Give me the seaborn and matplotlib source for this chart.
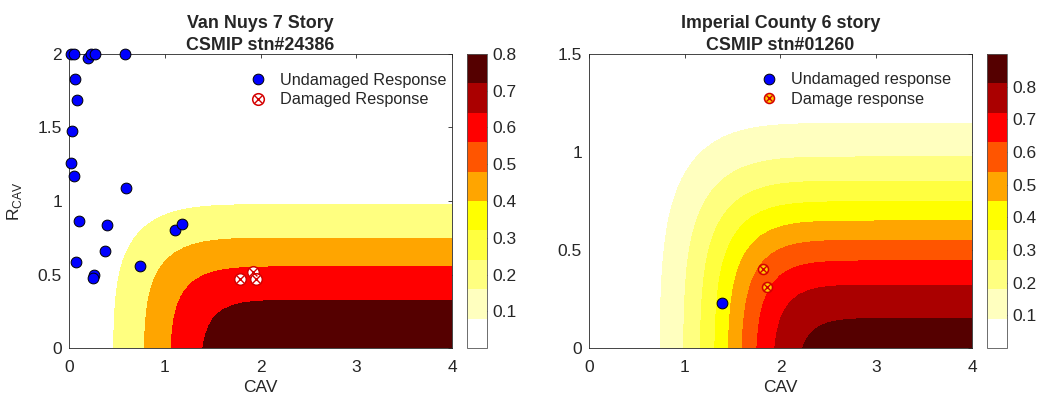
import math
import numpy as np
import matplotlib
matplotlib.use("Agg")
import matplotlib.pyplot as plt
from matplotlib.colors import ListedColormap, Normalize
from matplotlib.cm import ScalarMappable
from matplotlib.lines import Line2D
from matplotlib.legend_handler import HandlerTuple
import seaborn as sns

sns.set_style("white")
plt.rcParams["font.family"] = ["Liberation Sans", "DejaVu Sans"]
plt.rcParams["mathtext.fontset"] = "custom"
plt.rcParams["mathtext.rm"] = "Liberation Sans"

# ten colour bands of both colorbars (white -> dark red)
band_colors = ["#FFFFFF", "#FFFFBF", "#FFFF80", "#FFFF40", "#FFFF00",
               "#FFA500", "#FF5500", "#FF0000", "#AA0000", "#550000"]

# ---- Van Nuys 7 story, CSMIP stn#24386 ----
vn_title = "Van Nuys 7 Story\nCSMIP stn#24386"
vn_und_cav = [0.02, 0.05, 0.20, 0.23, 0.27, 0.58, 0.066, 0.087, 0.03, 0.025,
              0.05, 0.60, 0.104, 0.40, 0.38, 0.077, 0.258, 0.254, 0.742, 1.104, 1.177]
vn_und_r = [2.0, 2.0, 1.975, 2.0, 2.0, 2.0, 1.83, 1.685, 1.476, 1.26,
            1.17, 1.086, 0.866, 0.837, 0.658, 0.587, 0.495, 0.474, 0.556, 0.805, 0.841]
vn_dam_cav = [1.786, 1.925, 1.95]
vn_dam_r = [0.47, 0.519, 0.469]
vn_levels = [0.2, 0.4, 0.6, 0.8]
vn_cbar_max = 0.8
vn_cbar_ticks = [0.1, 0.2, 0.3, 0.4, 0.5, 0.6, 0.7, 0.8]
vn_yticks = [0, 0.5, 1, 1.5, 2]
vn_ymax = 2.0
vn_labels = ["Undamaged Response", "Damaged Response"]
# fragility surface: median / spread of CAV and R_CAV
vn_cav_fit = [0.92, 0.54]
vn_r_fit = [0.65, 0.386]

# ---- Imperial County 6 story, CSMIP stn#01260 ----
ic_title = "Imperial County 6 story\nCSMIP stn#01260"
ic_und_cav = [1.386]
ic_und_r = [0.232]
ic_dam_cav = [1.82, 1.855]
ic_dam_r = [0.405, 0.31]
ic_levels = [0.1, 0.2, 0.3, 0.4, 0.5, 0.6, 0.7, 0.8, 0.9]
ic_cbar_max = 0.9
ic_cbar_ticks = [0.1, 0.2, 0.3, 0.4, 0.5, 0.6, 0.7, 0.8]
ic_yticks = [0, 0.5, 1, 1.5]
ic_ymax = 1.5
ic_labels = ["Undamaged response", "Damage response"]
ic_cav_fit = [1.45, 0.55]
ic_r_fit = [0.648, 0.388]

copula_theta = 1.5
xticks = [0, 1, 2, 3, 4]

erf = np.vectorize(math.erf)


def ncdf(z):
    return 0.5 * (1.0 + erf(z / math.sqrt(2.0)))


def fragility(cav, r, cav_fit, r_fit):
    f = np.clip(ncdf((cav - cav_fit[0]) / cav_fit[1]), 1e-12, 1 - 1e-12)
    g = np.clip(1 - ncdf((r - r_fit[0]) / r_fit[1]), 1e-12, 1 - 1e-12)
    s = (-np.log(f)) ** copula_theta + (-np.log(g)) ** copula_theta
    return np.exp(-s ** (1.0 / copula_theta))


fig = plt.figure(figsize=(10.43, 3.99), dpi=100)
dark = "#262626"
cmap = ListedColormap(band_colors)


def panel(ax_rect, cb_rect, title, und_c, und_r, dam_c, dam_r, levels, cmax,
          cticks, yticks, ymax, labels, cav_fit, r_fit, dam_face, dam_size, leg_anchor):
    ax = fig.add_axes(ax_rect)
    cg = np.linspace(0, 4, 41)
    rg = np.linspace(0, ymax, 41)
    C, R = np.meshgrid(cg, rg)
    P = fragility(C, R, cav_fit, r_fit)
    fill = [band_colors[min(int(l / cmax * 10 + 1e-6), 9)] for l in levels]
    ax.contourf(C, R, P, levels=levels + [1.0], colors=fill, antialiased=False)

    sns.scatterplot(x=und_c, y=und_r, ax=ax, color="#0000FF", edgecolor="black",
                    linewidth=0.7, s=60, clip_on=False, zorder=4, legend=False)
    sns.scatterplot(x=dam_c, y=dam_r, ax=ax, color=dam_face, edgecolor="#D40000",
                    linewidth=1.1, s=dam_size, zorder=5, legend=False)
    sns.scatterplot(x=dam_c, y=dam_r, ax=ax, marker="x", color="#D40000",
                    linewidth=1.0, s=dam_size * 0.45, zorder=6, legend=False)

    ax.set_xlim(0, 4)
    ax.set_ylim(0, ymax)
    ax.set_xticks(xticks)
    ax.set_xticklabels([str(t) for t in xticks])
    ax.set_yticks(yticks)
    ax.set_yticklabels([f"{t:g}" for t in yticks])
    ax.tick_params(direction="in", top=True, right=True, length=3, width=0.6,
                   colors=dark, labelsize=12.5, pad=5)
    ax.tick_params(axis="x", pad=8.5)
    for sp in ax.spines.values():
        sp.set_color(dark)
        sp.set_linewidth(0.6)
    ax.set_xlabel("CAV", fontsize=12.5, color=dark, labelpad=3.5)
    ax.set_title(title, fontsize=12.9, fontweight="bold", pad=3, linespacing=1.4)

    h1 = Line2D([], [], ls="", marker="o", mfc="#0000FF", mec="black", mew=0.7, ms=7.7)
    h2a = Line2D([], [], ls="", marker="o", mfc=dam_face, mec="#D40000", mew=1.1,
                 ms=math.sqrt(dam_size))
    h2b = Line2D([], [], ls="", marker="x", mec="#D40000", mew=1.0,
                 ms=math.sqrt(dam_size * 0.45))
    ax.legend([h1, (h2a, h2b)], labels, handler_map={tuple: HandlerTuple(ndivide=1)},
              loc="upper left", bbox_to_anchor=leg_anchor, frameon=False,
              fontsize=11.7, handlelength=1.2, handletextpad=0.75,
              labelspacing=0.27, borderpad=0, borderaxespad=0)

    cax = fig.add_axes(cb_rect)
    sm = ScalarMappable(norm=Normalize(0, cmax), cmap=cmap)
    cb = fig.colorbar(sm, cax=cax, ticks=cticks)
    cb.ax.set_yticklabels([f"{t:g}" for t in cticks])
    cb.ax.tick_params(direction="in", length=3, width=0.6, colors=dark,
                      labelsize=12.5, pad=4)
    cb.outline.set_edgecolor("#555555")
    cb.outline.set_linewidth(0.6)
    return ax


ax_l = panel([0.0662, 0.1278, 0.3672, 0.7369], [0.4478, 0.1278, 0.0192, 0.7369],
             vn_title, vn_und_cav, vn_und_r, vn_dam_cav, vn_dam_r, vn_levels,
             vn_cbar_max, vn_cbar_ticks, vn_yticks, vn_ymax, vn_labels,
             vn_cav_fit, vn_r_fit, "white", 70, (0.468, 0.935))
ax_l.set_ylabel(r"R$_{\mathregular{CAV}}$", fontsize=12.5, color=dark, labelpad=10)

ax_r = panel([0.5647, 0.1278, 0.3672, 0.7369], [0.9463, 0.1278, 0.0192, 0.7369],
             ic_title, ic_und_cav, ic_und_r, ic_dam_cav, ic_dam_r, ic_levels,
             ic_cbar_max, ic_cbar_ticks, ic_yticks, ic_ymax, ic_labels,
             ic_cav_fit, ic_r_fit, "#FFCC00", 52, (0.4445, 0.938))

fig.savefig("out.png", dpi=100)
